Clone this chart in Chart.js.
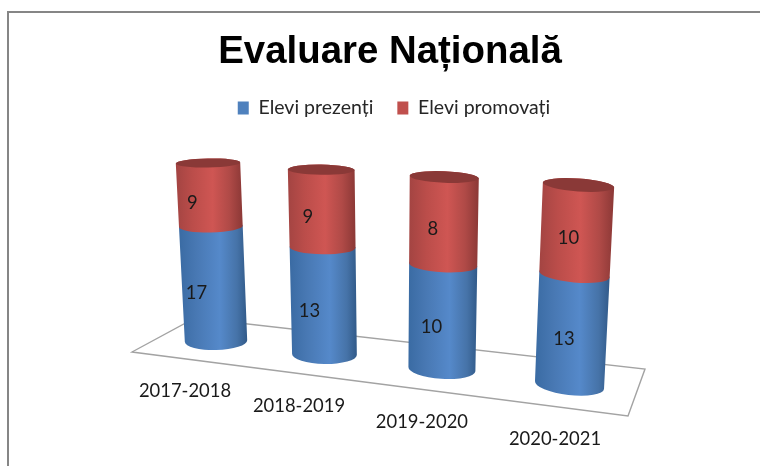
<!DOCTYPE html>
<html><head><meta charset="utf-8">
<style>html,body{margin:0;padding:0;background:#fff}canvas{display:block}</style>
<script src="https://cdn.jsdelivr.net/npm/chart.js@4"></script>
</head><body><div style="width:760px;height:466px"><canvas id="c" width="760" height="466"></canvas></div>
<script>
const categories = ['2017-2018','2018-2019','2019-2020','2020-2021'];
const prezenti = [17,13,10,13];
const promovati = [9,9,8,10];
const titleText = 'Evaluare Națională';

// Perspective of the 3D view: where the flat bar rectangle lands on screen.
const VIEW = {
  quad:[[208,163],[578.5,185],[569.5,385],[216,341]],
  floor:[[132,352],[195,318],[645,369],[628,416]]
};
const LABEL_FONT = '18.4px Lato';
const share = (a)=>a.map((v,i)=>v/(prezenti[i]+promovati[i]));

function makeH(q){
  const [[x0,y0],[x1,y1],[x2,y2],[x3,y3]]=q;
  const dx1=x1-x2,dx2=x3-x2,sx=x0-x1+x2-x3,dy1=y1-y2,dy2=y3-y2,sy=y0-y1+y2-y3;
  const den=dx1*dy2-dx2*dy1, g=(sx*dy2-dx2*sy)/den, h=(dx1*sy-sx*dy1)/den;
  const a=x1-x0+g*x1,b=x3-x0+h*x3,d=y1-y0+g*y1,e=y3-y0+h*y3;
  return (u,v)=>{const w=g*u+h*v+1;return [(a*u+b*v+x0)/w,(d*u+e*v+y0)/w];};
}
const H=makeH(VIEW.quad);

function ring(chart,x,y,w){
  const xs=chart.scales.x, ys=chart.scales.y;
  const x0=xs.getPixelForTick(0), x3=xs.getPixelForTick(categories.length-1);
  const yT=ys.getPixelForValue(1), yB=ys.getPixelForValue(0);
  const u=(x-x0)/(x3-x0), v=(y-yT)/(yB-yT);
  const C=H(u,v);
  const rx=w/2*(0.62+0.07*u+0.02*(1-v));
  return {cx:C[0],cy:C[1],rx,ry:rx*(0.14+0.15*v+0.04*u*(1-v)),rot:(u-0.2)*(0.09+0.05*v),u,v};
}
const SHADES=[
 {body:[[0,'#3a6ba3'],[0.25,'#4878b3'],[0.6,'#5589ca'],[0.85,'#4673a8'],[1,'#315a89']]},
 {body:[[0,'#a34442'],[0.25,'#bb4d4a'],[0.55,'#cf5653'],[0.8,'#b04a47'],[1,'#8b3836']],cap:'#8a3937'}
];
function cyl(ctx,chart,el,k){
  const p=el.getProps(['x','y','base','width'],true);
  const t=ring(chart,p.x,p.y,p.width), b=ring(chart,p.x,p.base,p.width);
  const gx0=Math.min(t.cx-t.rx,b.cx-b.rx), gx1=Math.max(t.cx+t.rx,b.cx+b.rx);
  const g=ctx.createLinearGradient(gx0,0,gx1,0);
  SHADES[k].body.forEach(s=>g.addColorStop(s[0],s[1]));
  ctx.beginPath();
  ctx.ellipse(b.cx,b.cy,b.rx,b.ry,b.rot,0,Math.PI);
  ctx.ellipse(t.cx,t.cy,t.rx,t.ry,t.rot,Math.PI,2*Math.PI);
  ctx.closePath();
  ctx.fillStyle=g;ctx.fill();
  if(SHADES[k].cap){
    ctx.beginPath();ctx.ellipse(t.cx,t.cy,t.rx,t.ry,t.rot,0,2*Math.PI);
    ctx.fillStyle=SHADES[k].cap;ctx.fill();
  }
}
const view3d={
  id:'view3d',
  afterLayout(chart){
    chart.titleBlock.left-=4;chart.titleBlock.right-=4;
  },
  beforeDraw(chart){
    const c=chart.ctx;c.save();
    c.fillStyle='#fff';c.fillRect(0,0,760,466);
    c.strokeStyle='#868686';c.lineWidth=2;
    c.beginPath();c.moveTo(8,466);c.lineTo(8,12);c.lineTo(760,12);c.stroke();
    c.restore();
  },
  beforeDatasetsDraw(chart){
    const c=chart.ctx;c.save();
    c.strokeStyle='#a3a3a3';c.lineWidth=1.4;c.beginPath();
    VIEW.floor.forEach((p,i)=>i?c.lineTo(p[0],p[1]):c.moveTo(p[0],p[1]));
    c.closePath();c.stroke();
    chart.data.datasets.forEach((ds,k)=>{
      chart.getDatasetMeta(k).data.forEach(el=>cyl(c,chart,el,k));
    });
    c.restore();
  },
  beforeDatasetDraw(){
    return false;
  },
  afterDatasetsDraw(chart){
    const c=chart.ctx;c.save();
    c.font=LABEL_FONT;c.fillStyle='#1a1a1a';c.textAlign='center';c.textBaseline='middle';
    chart.data.datasets.forEach((ds,k)=>{
      chart.getDatasetMeta(k).data.forEach((el,i)=>{
        const p=el.getProps(['x','y','base','width'],true);
        const m=ring(chart,p.x,(p.y+p.base)/2,p.width);
        c.fillText(String(ds.counts[i]),m.cx-17+9*m.u,m.cy+(k?8:9));
      });
    });
    const ys=chart.scales.y;
    chart.getDatasetMeta(0).data.forEach((el,i)=>{
      const b=ring(chart,el.x,ys.getPixelForValue(0),el.width);
      c.fillText(categories[i],b.cx-31+16.5*b.u,b.cy+50+4*b.u);
    });
    c.restore();
  }
};
new Chart(document.getElementById('c'),{
  type:'bar',
  data:{labels:categories,datasets:[
    {label:'Elevi prezenți',data:share(prezenti),counts:prezenti,backgroundColor:'#4F81BD',stack:'a'},
    {label:'Elevi promovați',data:share(promovati),counts:promovati,backgroundColor:'#C0504D',stack:'a'}
  ]},
  plugins:[view3d],
  options:{
    responsive:false,animation:false,
    layout:{padding:{left:28,right:0,top:20,bottom:40}},
    datasets:{bar:{barPercentage:0.55,categoryPercentage:1}},
    scales:{
      x:{display:false,stacked:true},
      y:{display:false,stacked:true,min:0,max:1}
    },
    plugins:{
      tooltip:{enabled:false},
      title:{display:true,text:titleText,color:'#000',font:{family:'Liberation Sans',size:38.4,weight:'bold',lineHeight:1.15},padding:{top:10,bottom:0}},
      legend:{display:true,position:'top',labels:{boxWidth:11,boxHeight:13,color:'#262626',padding:24,font:{family:'Lato',size:19.5}}}
    }
  }
});
</script></body></html>
